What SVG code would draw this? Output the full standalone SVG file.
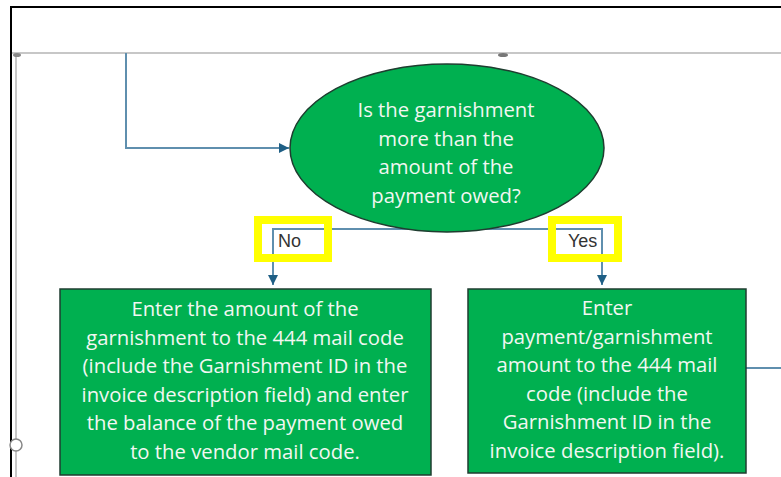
<svg xmlns="http://www.w3.org/2000/svg" width="781" height="477" viewBox="0 0 781 477">
<style>
.frame{stroke:#000;stroke-width:2;fill:none}
.guide{stroke:#b4b4b4;stroke-width:1.5;fill:none}
.conn{stroke:#5f8fae;stroke-width:2;fill:none}
.node{fill:#00b050;stroke:#1f3d30;stroke-width:1.5}
.t{font-family:"Open Sans","Liberation Sans",sans-serif;font-size:20.3px;fill:#f2f7f2;text-anchor:middle}
.lbl{font-family:"Liberation Sans","Open Sans",sans-serif;font-size:18px;fill:#333}
.hl{fill:none;stroke:#ffff00;stroke-width:8}
</style>
<defs>
<marker id="ah" viewBox="0 0 10 10" refX="10" refY="5" markerWidth="10" markerHeight="10" markerUnits="userSpaceOnUse" orient="auto">
<path d="M0,0 L10,5 L0,10 Z" fill="#1f5f85"/>
</marker>
</defs>
<rect width="781" height="477" fill="#fff"/>
<g id="frame">
<line class="frame" x1="10" y1="7" x2="781" y2="7"/>
<line class="frame" x1="11" y1="7" x2="11" y2="477"/>
<line class="guide" x1="12" y1="53" x2="781" y2="53"/>
<line class="guide" x1="16" y1="53" x2="16" y2="477" stroke="#a0a0a0"/>
<ellipse cx="17" cy="55" rx="4" ry="2" fill="#888"/>
<ellipse cx="503" cy="55" rx="5" ry="2" fill="#777"/>
<circle cx="16" cy="445" r="6" fill="#fff" stroke="#888" stroke-width="1.5"/>
</g>
<g id="connectors">
<polyline class="conn" points="126,53 126,148 289,148" marker-end="url(#ah)"/>
<polyline class="conn" points="447,229 273,229 273,285" marker-end="url(#ah)"/>
<polyline class="conn" points="447,229 602,229 602,285" marker-end="url(#ah)"/>
<line class="conn" x1="746" y1="368" x2="781" y2="368"/>
</g>
<g id="decision">
<ellipse class="node" cx="447" cy="148" rx="157" ry="84"/>
<text class="t" x="446" y="117">Is the garnishment</text>
<text class="t" x="446" y="145.5">more than the</text>
<text class="t" x="446" y="174">amount of the</text>
<text class="t" x="446" y="202.5">payment owed?</text>
</g>
<g id="label-no">
<text class="lbl" x="278" y="247">No</text>
<rect class="hl" x="258" y="220" width="70" height="38"/>
</g>
<g id="label-yes">
<text class="lbl" x="568" y="247">Yes</text>
<rect class="hl" x="552" y="220" width="66" height="38"/>
</g>
<g id="box-no">
<rect class="node" x="60" y="289" width="371" height="186"/>
<text class="t" x="245" y="316">Enter the amount of the</text>
<text class="t" x="245" y="344.5">garnishment to the 444 mail code</text>
<text class="t" x="245" y="373">(include the Garnishment ID in the</text>
<text class="t" x="245" y="401.5">invoice description field) and enter</text>
<text class="t" x="245" y="430">the balance of the payment owed</text>
<text class="t" x="245" y="458.5">to the vendor mail code.</text>
</g>
<g id="box-yes">
<rect class="node" x="468" y="289" width="278" height="184"/>
<text class="t" x="607" y="315">Enter</text>
<text class="t" x="607" y="343.5">payment/garnishment</text>
<text class="t" x="607" y="372">amount to the 444 mail</text>
<text class="t" x="607" y="400.5">code (include the</text>
<text class="t" x="607" y="429">Garnishment ID in the</text>
<text class="t" x="607" y="457.5">invoice description field).</text>
</g>
</svg>
